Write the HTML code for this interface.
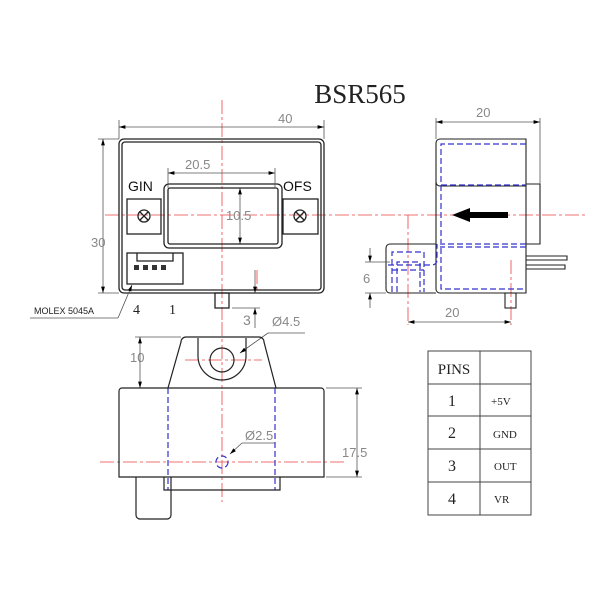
<!DOCTYPE html>
<html><head><meta charset="utf-8"><style>body{margin:0;background:#fff}svg{display:block}</style></head><body>
<svg width="600" height="600" viewBox="0 0 600 600" xmlns="http://www.w3.org/2000/svg">
<defs>
<marker id="a" viewBox="0 0 10 6" refX="10" refY="3" markerWidth="8" markerHeight="5" orient="auto-start-reverse"><path d="M0,0L10,3L0,6z" fill="#000"/></marker>
</defs>
<text x="360" y="103" font-family="Liberation Serif,serif" font-size="27" text-anchor="middle" fill="#222">BSR565</text>
<!-- red center lines -->
<g stroke="#e44" stroke-width="0.8" stroke-dasharray="14,3,3,3" fill="none">
<line x1="105" y1="215" x2="585" y2="215"/>
<line x1="222" y1="100" x2="222" y2="320"/>
<line x1="100" y1="462" x2="345" y2="462"/>
<line x1="222" y1="322" x2="222" y2="502"/>
<line x1="185" y1="360" x2="262" y2="360"/>
<line x1="408" y1="215" x2="408" y2="325"/>
<line x1="511" y1="260" x2="511" y2="325"/>
<line x1="257" y1="270" x2="257" y2="293"/>
</g>
<!-- front view -->
<g stroke="#222" stroke-width="1.3" fill="none">
<rect x="119" y="139" width="205" height="154" rx="5"/>
<rect x="122" y="142" width="199" height="148" rx="3"/>
<rect x="164" y="184" width="118" height="64" rx="5"/>
<rect x="168" y="188" width="110" height="56" rx="2"/>
<rect x="127" y="199" width="34" height="35"/>
<rect x="283" y="199" width="35" height="35"/>
<circle cx="144" cy="216" r="6"/><path d="M140,212l8,8M148,212l-8,8"/>
<circle cx="300" cy="216" r="6"/><path d="M296,212l8,8M304,212l-8,8"/>
<rect x="127" y="253" width="56" height="31"/>
<path d="M137,253v8h36v-8"/>
<rect x="215" y="293" width="14" height="15"/>
</g>
<g fill="#333"><rect x="134" y="265" width="5" height="5"/><rect x="143" y="265" width="5" height="5"/><rect x="152" y="265" width="5" height="5"/><rect x="161" y="265" width="5" height="5"/></g>
<text x="128" y="191" font-family="Liberation Sans,sans-serif" font-size="14" fill="#111">GIN</text>
<text x="283" y="191" font-family="Liberation Sans,sans-serif" font-size="14" fill="#111">OFS</text>
<!-- dims front -->
<g stroke="#555" stroke-width="0.8" fill="none">
<line x1="119" y1="120" x2="119" y2="139"/><line x1="324" y1="120" x2="324" y2="139"/>
<line x1="119" y1="127" x2="324" y2="127" marker-start="url(#a)" marker-end="url(#a)"/>
<line x1="168" y1="168" x2="168" y2="188"/><line x1="275" y1="168" x2="275" y2="188"/>
<line x1="168" y1="173" x2="275" y2="173" marker-start="url(#a)" marker-end="url(#a)"/>
<line x1="240" y1="188" x2="240" y2="244" marker-start="url(#a)" marker-end="url(#a)"/>
<line x1="98" y1="139" x2="119" y2="139"/><line x1="98" y1="293" x2="119" y2="293"/>
<line x1="103" y1="139" x2="103" y2="293" marker-start="url(#a)" marker-end="url(#a)"/>
<line x1="255" y1="270" x2="255" y2="293" marker-end="url(#a)"/>
<line x1="255" y1="328" x2="255" y2="308" marker-end="url(#a)"/>
<line x1="232" y1="308" x2="260" y2="308"/>
<line x1="30" y1="318" x2="118" y2="318"/><line x1="118" y1="318" x2="132" y2="285" marker-end="url(#a)"/>
<line x1="240" y1="353" x2="268" y2="333" marker-start="url(#a)"/><line x1="268" y1="333" x2="305" y2="333"/>
<line x1="230" y1="454" x2="242" y2="443" marker-start="url(#a)"/><line x1="242" y1="443" x2="275" y2="443"/>
</g>
<g font-family="Liberation Sans,sans-serif" font-size="13" fill="#888">
<text x="278" y="123">40</text><text x="185" y="169">20.5</text><text x="226" y="220">10.5</text>
<text x="91" y="247">30</text><text x="243" y="325" font-size="14">3</text><text x="272" y="326">Ø4.5</text>
<text x="245" y="440">Ø2.5</text><text x="130" y="362">10</text><text x="342" y="457">17.5</text>
<text x="476" y="117">20</text><text x="445" y="317">20</text><text x="363" y="283">6</text>
</g>
<text x="34" y="314" font-family="Liberation Sans,sans-serif" font-size="9" fill="#222">MOLEX  5045A</text>
<text x="133" y="314" font-family="Liberation Serif,serif" font-size="14" fill="#222">4</text>
<text x="169" y="314" font-family="Liberation Serif,serif" font-size="14" fill="#222">1</text>
<!-- side view -->
<g stroke="#222" stroke-width="1.1" fill="none">
<path d="M440,139H526V293H440a4,4 0 0 1-4-4V143a4,4 0 0 1 4-4z"/>
<path d="M526,184H540V244H526"/>
<path d="M436,244H390a4,4 0 0 0-4,4V289a4,4 0 0 0 4,4H436"/>
<path d="M526,256H567V260H526M526,265H565V269H526"/>
<rect x="505" y="293" width="11" height="15"/>
<path d="M436,182a4,4 0 0 0 4,4H526"/>
</g>
<path d="M508,212H470V208L452,215L470,222V218H508z" fill="#000"/>
<g stroke="#33c" stroke-width="1.2" fill="none" stroke-dasharray="6,3">
<path d="M526,144H441V185H526"/><path d="M441,185V289H526"/>
<path d="M526,244H442M526,247H440"/>
<path d="M392,292V252H424V292M397,292V262H420V292"/>
<path d="M388,265H432a5,5 0 0 0 5-5V244"/>
<path d="M392,270H424"/>
<path d="M168,388V490M275,388V490"/>
<circle cx="222" cy="462" r="6"/>
</g>
<g stroke="#555" stroke-width="0.8" fill="none">
<line x1="436" y1="118" x2="436" y2="139"/><line x1="540" y1="118" x2="540" y2="184"/>
<line x1="436" y1="122" x2="540" y2="122" marker-start="url(#a)" marker-end="url(#a)"/>
<line x1="408" y1="322" x2="511" y2="322" marker-start="url(#a)" marker-end="url(#a)"/>
<line x1="365" y1="262" x2="390" y2="262"/><line x1="365" y1="293" x2="386" y2="293"/>
<line x1="370" y1="248" x2="370" y2="262" marker-end="url(#a)"/>
<line x1="370" y1="308" x2="370" y2="293" marker-end="url(#a)"/>
<line x1="135" y1="337" x2="181" y2="337"/>
<line x1="140" y1="337" x2="140" y2="388" marker-start="url(#a)" marker-end="url(#a)"/>
<line x1="326" y1="388" x2="362" y2="388"/><line x1="326" y1="477" x2="362" y2="477"/>
<line x1="357" y1="388" x2="357" y2="477" marker-start="url(#a)" marker-end="url(#a)"/>
</g>
<!-- bottom view -->
<g stroke="#222" stroke-width="1.2" fill="none">
<path d="M122,388H321a3,3 0 0 1 3,3V477H119V391a3,3 0 0 1 3-3z"/>
<path d="M168,388L181,342a5,5 0 0 1 5-5H259a5,5 0 0 1 5,5L276,388"/>
<path d="M198,338V356a24,24 0 0 0 48,0V338"/>
<circle cx="222" cy="360" r="12"/>
<path d="M164,477V490H280V477"/>
<path d="M136,477V515a4,4 0 0 0 4,4H167a4,4 0 0 0 4-4V477"/>
</g>
<!-- table -->
<g stroke="#444" stroke-width="1" fill="none">
<rect x="428" y="351" width="103" height="164"/>
<line x1="480" y1="351" x2="480" y2="515"/>
<line x1="428" y1="384" x2="531" y2="384"/><line x1="428" y1="416" x2="531" y2="416"/>
<line x1="428" y1="449" x2="531" y2="449"/><line x1="428" y1="482" x2="531" y2="482"/>
</g>
<g font-family="Liberation Serif,serif" fill="#222">
<text x="454" y="374" font-size="15" text-anchor="middle">PINS</text>
<text x="452" y="406" font-size="16" text-anchor="middle">1</text>
<text x="452" y="438" font-size="16" text-anchor="middle">2</text>
<text x="452" y="471" font-size="16" text-anchor="middle">3</text>
<text x="452" y="504" font-size="16" text-anchor="middle">4</text>
<text x="491" y="405" font-size="11">+5V</text>
<text x="493" y="438" font-size="11">GND</text>
<text x="494" y="470" font-size="11">OUT</text>
<text x="494" y="503" font-size="11">VR</text>
</g>
</svg>
</body></html>
